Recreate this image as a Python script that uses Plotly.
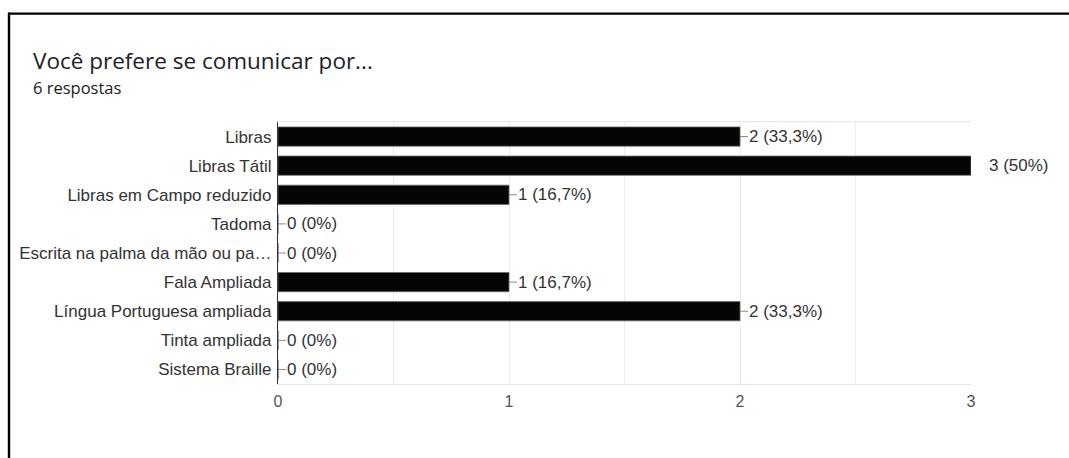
import plotly.graph_objects as go

# Survey answers: "Você prefere se comunicar por..."
categorias = [
    "Libras",
    "Libras Tátil",
    "Libras em Campo reduzido",
    "Tadoma",
    "Escrita na palma da mão ou pa…",
    "Fala Ampliada",
    "Língua Portuguesa ampliada",
    "Tinta ampliada",
    "Sistema Braille",
]
respostas = [2, 3, 1, 0, 0, 1, 2, 0, 0]
total_respostas = 6
titulo = "Você prefere se comunicar por..."
subtitulo = f"{total_respostas} respostas"
ticks_x = [0, 1, 2, 3]

W, H = 1069, 458
L, R, T, B = 278, 98, 122, 74
PW, PH = W - L - R, H - T - B


def px_x(x):
    return (x - L) / PW


def px_y(y):
    return (H - B - y) / PH


def pct(v):
    p = round(100 * v / total_respostas, 1)
    s = f"{p:.1f}".replace(".", ",")
    if s.endswith(",0"):
        s = s[:-2]
    return f"{v} ({s}%)"


SANS = "Liberation Sans, Arial, Helvetica, sans-serif"
LABEL_FONT = dict(family=SANS, size=17, color="#333333")

fig = go.Figure(
    go.Bar(
        x=respostas,
        y=categorias,
        orientation="h",
        marker=dict(color="#050505", line=dict(color="#6b6b6b", width=0.8)),
        width=0.66,
        hoverinfo="skip",
    )
)

xmax = max(ticks_x)
annotations = []
for cat, v in zip(categorias, respostas):
    if v >= xmax:
        annotations.append(dict(
            x=v, y=cat, xref="x", yref="y", text=pct(v), showarrow=False,
            xanchor="left", yanchor="middle", xshift=16, font=LABEL_FONT,
        ))
    else:
        annotations.append(dict(
            x=v, y=cat, xref="x", yref="y", text=pct(v), showarrow=True,
            arrowhead=0, arrowwidth=1, arrowcolor="#8a8a8a", ax=8, ay=0,
            xanchor="left", yanchor="middle", standoff=0, startstandoff=0,
            borderpad=0, font=LABEL_FONT,
        ))

annotations.append(dict(
    x=px_x(32), y=px_y(60.5), xref="paper", yref="paper", text=titulo,
    showarrow=False, xanchor="left", yanchor="middle", borderpad=0,
    font=dict(family="Open Sans, Roboto, sans-serif", size=22.5, color="#202124"),
))
annotations.append(dict(
    x=px_x(32), y=px_y(88), xref="paper", yref="paper", text=subtitulo,
    showarrow=False, xanchor="left", yanchor="middle", borderpad=0,
    font=dict(family="Open Sans, Roboto, sans-serif", size=16.5, color="#202124"),
))

shapes = [
    # outer frame (top and left edges)
    dict(type="line", xref="paper", yref="paper", x0=px_x(8), x1=px_x(W + 5),
         y0=px_y(13.7), y1=px_y(13.7), line=dict(color="black", width=2.2)),
    dict(type="line", xref="paper", yref="paper", x0=px_x(9), x1=px_x(9),
         y0=px_y(12.7), y1=px_y(H + 5), line=dict(color="black", width=2.4)),
]

fig.update_layout(
    width=W, height=H,
    margin=dict(l=L, r=R, t=T, b=B, pad=0),
    paper_bgcolor="white", plot_bgcolor="white",
    showlegend=False,
    bargap=0.34,
    annotations=annotations,
    shapes=shapes,
    xaxis=dict(
        range=[0, xmax], tickvals=ticks_x, ticktext=[str(t) for t in ticks_x],
        showgrid=False, zeroline=False,
        showline=True, linecolor="#e6e6e6", linewidth=1, mirror=True,
        ticks="", ticklabelstandoff=3,
        tickfont=dict(family=SANS, size=16, color="#555555"),
        minor=dict(dtick=0.5, tick0=0, showgrid=True, gridcolor="#ececec", gridwidth=1),
        fixedrange=True,
    ),
    yaxis=dict(
        categoryorder="array", categoryarray=categorias, autorange="reversed",
        showgrid=False, zeroline=False,
        showline=True, linecolor="#333333", linewidth=1.2,
        ticks="", ticklabelstandoff=2,
        tickfont=LABEL_FONT,
        fixedrange=True,
    ),
)

fig.write_html("out.html", config=dict(displayModeBar=False))
